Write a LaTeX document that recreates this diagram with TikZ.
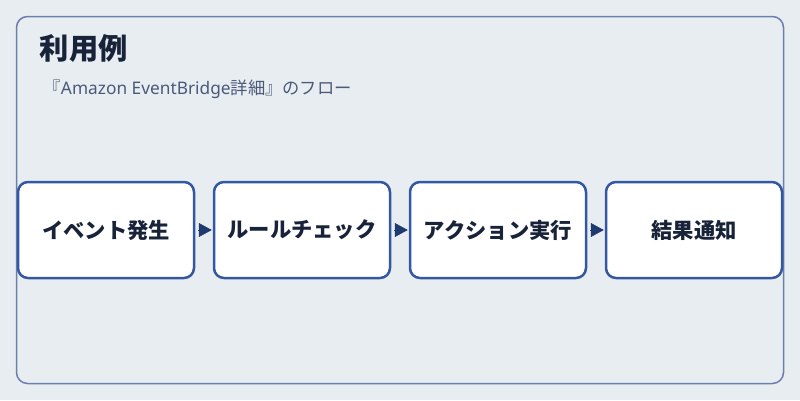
\documentclass[tikz,border=0pt]{standalone}
\usepackage{fontspec}
\setmainfont{Noto Sans CJK JP}
\newfontfamily\latinfont{Noto Sans}
\usetikzlibrary{arrows.meta}

\definecolor{bgcol}{HTML}{E8EDF2}
\definecolor{framecol}{HTML}{6A7FAB}
\definecolor{boxcol}{HTML}{3358A0}
\definecolor{arrowcol}{HTML}{1F3A6E}
\definecolor{titlecol}{HTML}{18233A}
\definecolor{subcol}{HTML}{4A5A78}

\begin{document}
\begin{tikzpicture}[x=1pt,y=-1pt]

      \fill[bgcol] (0,0) rectangle (800,400);
      \useasboundingbox (0,0) rectangle (800,400);
      \draw[framecol,line width=1.5pt,rounded corners=11pt] (16.5,16.5) rectangle (783.5,383.5);

      \node[anchor=west,text=titlecol,font=\fontsize{29.3}{33}\selectfont\bfseries,inner sep=0pt] (title) at (39.5,48) {利用例};
      \node[anchor=west,text=subcol,font=\fontsize{17.3}{21}\selectfont,inner sep=0pt] (sub) at (43.5,89)
        {『{\latinfont Amazon EventBridge}詳細』のフロー};

      \begin{scope}[every node/.style={draw=boxcol,fill=white,line width=2.5pt,rounded corners=10pt,
          minimum width=176pt,minimum height=96pt,inner sep=0pt,text=titlecol,
          font=\fontsize{21.3}{25}\selectfont\bfseries}]
        \node (event)  at (106,230) {イベント発生};
        \node (rule)   at (302,230) {ルールチェック};
        \node (action) at (498,230) {アクション実行};
        \node (notify) at (694,230) {結果通知};
      \end{scope}

      \begin{scope}[every edge/.style={draw=arrowcol,line width=0.5pt,shorten <=3pt,shorten >=1pt,
          -{Triangle[length=13pt,width=14pt]}}]
        \path (event)  edge (rule);
        \path (rule)   edge (action);
        \path (action) edge (notify);
      \end{scope}

    \end{tikzpicture}
\end{document}
